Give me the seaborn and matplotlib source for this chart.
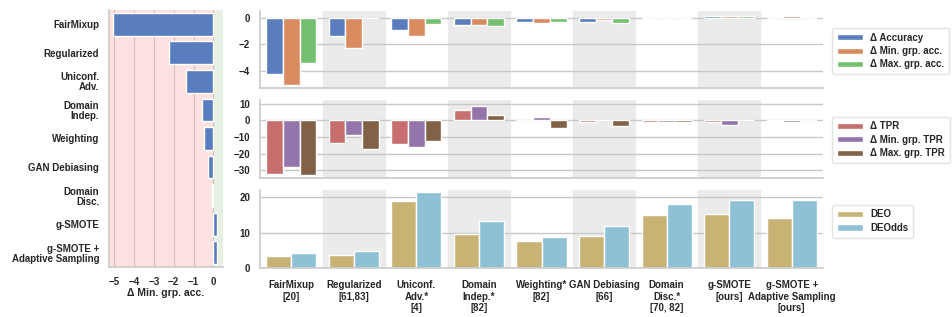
import numpy as np
import pandas as pd
import matplotlib
matplotlib.use("Agg")
import matplotlib.pyplot as plt
import seaborn as sns

sns.set_theme(style="whitegrid")
plt.rcParams['font.family'] = ['Liberation Sans', 'DejaVu Sans']
plt.rcParams['font.weight'] = 'bold'
plt.rcParams['axes.labelweight'] = 'bold'

# 方法名称
methods_left = ["FairMixup", "Regularized", "Uniconf.\nAdv.", "Domain\nIndep.", "Weighting",
                "GAN Debiasing", "Domain\nDisc.", "g-SMOTE", "g-SMOTE +\nAdaptive Sampling"]
methods_bottom = ["FairMixup\n[20]", "Regularized\n[61,83]", "Uniconf.\nAdv.*\n[4]", "Domain\nIndep.*\n[82]",
                  "Weighting*\n[82]", "GAN Debiasing\n[66]", "Domain\nDisc.*\n[70, 82]", "g-SMOTE\n[ours]",
                  "g-SMOTE +\nAdaptive Sampling\n[ours]"]

# 左图：Δ Min. grp. acc.
min_grp_acc_left = [-5.05, -2.25, -1.4, -0.55, -0.45, -0.25, -0.08, 0.2, 0.2]

# 上图：准确率变化
d_acc = [-4.25, -1.4, -0.9, -0.55, -0.3, -0.3, 0.0, 0.1, 0.0]
d_min_acc = [-5.05, -2.3, -1.4, -0.55, -0.4, -0.2, -0.05, 0.15, 0.15]
d_max_acc = [-3.4, 0.0, -0.5, -0.6, -0.3, -0.4, 0.0, 0.1, 0.0]

# 中图：TPR 变化
d_tpr = [-32.0, -13.5, -14.0, 6.0, 0.0, -1.0, -1.2, -1.0, -0.4]
d_min_tpr = [-28.3, -9.0, -16.0, 8.7, 2.2, 0.0, -1.2, -2.5, -1.0]
d_max_tpr = [-32.7, -17.5, -12.5, 3.0, -4.6, -3.5, -1.2, 0.0, 0.0]

# 下图：DEO / DEOdds
deo = [3.4, 3.7, 18.9, 9.5, 7.6, 9.1, 15.0, 15.2, 14.2]
deodds = [4.2, 4.9, 21.5, 13.3, 8.9, 12.0, 18.0, 19.3, 19.3]

muted = sns.color_palette("muted")

fig = plt.figure(figsize=(9.52, 3.17), dpi=100)
W, H = 952, 317

def add_ax(x0, y0, x1, y1):
    return fig.add_axes([x0 / W, 1 - y1 / H, (x1 - x0) / W, (y1 - y0) / H])

# ---------- 左图 ----------
ax0 = add_ax(109, 10, 223, 267)
ax0.axvspan(-6, 0, color='#fde2e2', zorder=0)
ax0.axvspan(0, 1, color='#e6f1e4', zorder=0)
df_left = pd.DataFrame({"method": methods_left, "value": min_grp_acc_left})
sns.barplot(data=df_left, x="value", y="method", order=methods_left, color=muted[0],
            edgecolor='white', linewidth=1, ax=ax0, zorder=2)
ax0.set_xlim(-5.27, 0.49)
ax0.set_xticks([-5, -4, -3, -2, -1, 0])
ax0.grid(axis='x', color='#d3bcc2', lw=0.8, zorder=1)
ax0.grid(axis='y', visible=False)
ax0.set_ylabel("")
ax0.set_xlabel("Δ Min. grp. acc.", fontsize=7.5, labelpad=1)
ax0.tick_params(labelsize=7, pad=1)
for t in ax0.get_yticklabels():
    t.set_linespacing(1.0)
for s in ["top", "right"]:
    ax0.spines[s].set_visible(False)
for s in ["left", "bottom"]:
    ax0.spines[s].set_color('#cccccc')
    ax0.spines[s].set_visible(True)

# ---------- 右侧三图 ----------
def panel(ax, series, names, colors, ylim, yticks, legend_y):
    for i in range(1, 9, 2):
        ax.axvspan(i - 0.5, i + 0.5, color='#ebebeb', zorder=0)
    rows = []
    for vals, nm in zip(series, names):
        for m, v in zip(methods_bottom, vals):
            rows.append({"method": m, "metric": nm, "value": v})
    df = pd.DataFrame(rows)
    sns.barplot(data=df, x="method", y="value", hue="metric", order=methods_bottom,
                hue_order=names, palette=colors, edgecolor='white', linewidth=1, ax=ax, zorder=2)
    ax.set_xlim(-0.5, 8.5)
    ax.set_ylim(*ylim)
    ax.set_yticks(yticks)
    ax.grid(axis='y', color='#c8c8c8', lw=1, zorder=1)
    ax.grid(axis='x', visible=False)
    ax.set_xlabel("")
    ax.set_ylabel("")
    ax.tick_params(labelsize=7, pad=1)
    for s in ["top", "right"]:
        ax.spines[s].set_visible(False)
    for s in ["left", "bottom"]:
        ax.spines[s].set_color('#cccccc')
        ax.spines[s].set_visible(True)
    ax.legend(loc='center left', bbox_to_anchor=(1.008, legend_y), fontsize=7,
              frameon=True, handlelength=2.6, handleheight=0.6, borderpad=0.5,
              labelspacing=0.35, edgecolor='#dddddd', fancybox=True)

ax1 = add_ax(260, 11, 823, 88)
panel(ax1, [d_acc, d_min_acc, d_max_acc], ["Δ Accuracy", "Δ Min. grp. acc.", "Δ Max. grp. acc."],
      [muted[0], muted[1], muted[2]], (-5.3, 0.5), [-4, -2, 0], 0.48)
ax1.set_xticklabels([])

ax2 = add_ax(260, 100, 823, 178)
panel(ax2, [d_tpr, d_min_tpr, d_max_tpr], ["Δ TPR", "Δ Min. grp. TPR", "Δ Max. grp. TPR"],
      [muted[3], muted[4], muted[5]], (-34.7, 12.3), [-30, -20, -10, 0, 10], 0.49)
ax2.set_xticklabels([])

ax3 = add_ax(260, 190, 823, 268)
panel(ax3, [deo, deodds], ["DEO", "DEOdds"], [muted[8], muted[9]], (0, 22.1), [0, 10, 20], 0.6)
ax3.set_xticks(range(9))
ax3.set_xticklabels(methods_bottom, fontsize=7, linespacing=1.15, fontweight='bold')
ax3.tick_params(axis='x', pad=3)

fig.savefig("out.png", dpi=100)
